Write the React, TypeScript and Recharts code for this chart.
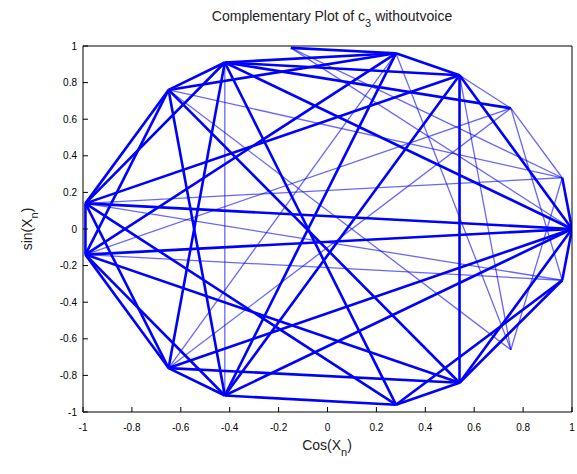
import { Line, LineChart, XAxis, YAxis } from "recharts";

// points on the unit circle
const POINT_NAMES = ["A", "B", "C", "D", "E", "F", "G", "H", "I", "J", "K", "L", "M", "N", "O", "P"];
const POINT_COS = [1, 0.96, 0.75, 0.54, 0.28, -0.15, -0.42, -0.65, -0.99, -0.99, -0.65, -0.42, 0.28, 0.54, 0.75, 0.96];
const POINT_SIN = [0, 0.28, 0.66, 0.84, 0.96, 0.99, 0.91, 0.76, 0.14, -0.14, -0.76, -0.91, -0.96, -0.84, -0.66, -0.28];

// segments drawn several times (look heavy) and once (look light)
const HEAVY_SEGMENTS = [
  "IH", "IG", "ID", "IA", "IK", "IM", "IJ", "JE", "JH", "JA", "JK", "JL", "JN",
  "GH", "GD", "GA", "GK", "GM", "GE", "GC", "HE", "HL", "HN", "FE", "ED", "EL",
  "DA", "DN", "DL", "AB", "AP", "AL", "AN", "PN", "PM", "KL", "KN", "KA", "LM", "MN",
];
const LIGHT_SEGMENTS = [
  "GL", "IP", "JC", "IB", "BH", "BO", "OD", "KC", "PC", "HO", "EO", "BC", "CD", "FA", "FB", "JP", "EK",
];

const X_TICKS = [-1, -0.8, -0.6, -0.4, -0.2, 0, 0.2, 0.4, 0.6, 0.8, 1];
const Y_TICKS = [-1, -0.8, -0.6, -0.4, -0.2, 0, 0.2, 0.4, 0.6, 0.8, 1];

const BLUE = "#0000ff";

function segmentData(seg: string) {
  return seg.split("").map((name) => {
    const i = POINT_NAMES.indexOf(name);
    return { x: POINT_COS[i], y: POINT_SIN[i] };
  });
}

const tickStyle = { fill: "#000", fontSize: 10 };

export default function App() {
  return (
    <div
      style={{
        position: "absolute",
        left: 0,
        top: 0,
        width: 577,
        height: 474,
        background: "#fff",
        fontFamily: "'Liberation Sans', Arial, sans-serif",
        color: "#222",
      }}
    >
      <LineChart width={577} height={474} margin={{ top: 45, right: 4, bottom: 32, left: 43 }}>
        <XAxis
          xAxisId="b"
          type="number"
          dataKey="x"
          domain={[-1, 1]}
          ticks={X_TICKS}
          interval={0}
          height={30}
          tickSize={-5}
          tickMargin={17}
          tick={tickStyle}
          axisLine={{ stroke: "#000" }}
          tickLine={{ stroke: "#000" }}
          allowDataOverflow
        />
        <XAxis
          xAxisId="t"
          orientation="top"
          type="number"
          dataKey="x"
          domain={[-1, 1]}
          ticks={X_TICKS}
          interval={0}
          height={1}
          tickSize={-5}
          tick={false}
          axisLine={{ stroke: "#000" }}
          tickLine={{ stroke: "#000" }}
          allowDataOverflow
        />
        <YAxis
          yAxisId="l"
          type="number"
          dataKey="y"
          domain={[-1, 1]}
          ticks={Y_TICKS}
          interval={0}
          width={40}
          tickSize={-5}
          tickMargin={11}
          tick={tickStyle}
          axisLine={{ stroke: "#000" }}
          tickLine={{ stroke: "#000" }}
          allowDataOverflow
        />
        <YAxis
          yAxisId="r"
          orientation="right"
          type="number"
          dataKey="y"
          domain={[-1, 1]}
          ticks={Y_TICKS}
          interval={0}
          width={1}
          tickSize={-5}
          tick={false}
          axisLine={{ stroke: "#000" }}
          tickLine={{ stroke: "#000" }}
          allowDataOverflow
        />
        <Line
          xAxisId="t"
          yAxisId="r"
          data={[{ x: -1, y: -1 }, { x: 1, y: 1 }]}
          dataKey="y"
          stroke="none"
          dot={false}
          activeDot={false}
          isAnimationActive={false}
        />
        {LIGHT_SEGMENTS.map((seg) => (
          <Line
            key={"l" + seg}
            xAxisId="b"
            yAxisId="l"
            data={segmentData(seg)}
            dataKey="y"
            stroke={BLUE}
            strokeOpacity={0.6}
            strokeWidth={1.3}
            dot={false}
            activeDot={false}
            isAnimationActive={false}
          />
        ))}
        {HEAVY_SEGMENTS.map((seg) => (
          <Line
            key={"h" + seg}
            xAxisId="b"
            yAxisId="l"
            data={segmentData(seg)}
            dataKey="y"
            stroke={BLUE}
            strokeWidth={2.6}
            dot={false}
            activeDot={false}
            isAnimationActive={false}
          />
        ))}
      </LineChart>

      <div
        style={{
          position: "absolute",
          left: 332,
          top: 8,
          transform: "translateX(-50%)",
          whiteSpace: "nowrap",
          fontSize: 14,
          lineHeight: "16px",
        }}
      >
        Complementary Plot of c<span style={{ position: "relative", top: 6, fontSize: 11 }}>3</span> withoutvoice
      </div>

      <div
        style={{
          position: "absolute",
          left: 327,
          top: 437,
          transform: "translateX(-50%)",
          whiteSpace: "nowrap",
          fontSize: 14,
          lineHeight: "16px",
        }}
      >
        Cos(X<span style={{ position: "relative", top: 6, fontSize: 11 }}>n</span>)
      </div>

      <div
        style={{
          position: "absolute",
          left: 27,
          top: 229,
          transform: "translate(-50%, -50%) rotate(-90deg)",
          whiteSpace: "nowrap",
          fontSize: 14,
          lineHeight: "16px",
        }}
      >
        sin(X<span style={{ position: "relative", top: 6, fontSize: 11 }}>n</span>)
      </div>
    </div>
  );
}
